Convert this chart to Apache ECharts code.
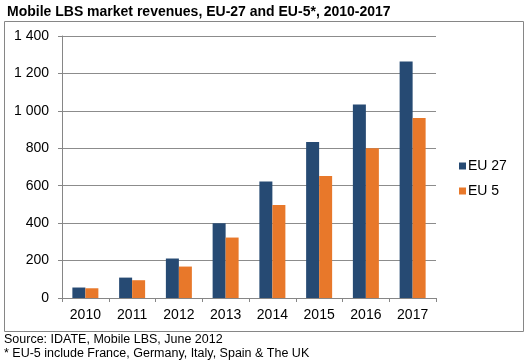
<!DOCTYPE html>
<html><head><meta charset="utf-8">
<script src="https://cdn.jsdelivr.net/npm/echarts@6/dist/echarts.min.js"></script>
<style>html,body{margin:0;padding:0;background:#fff}#c{width:532px;height:364px}</style>
</head><body><div id="c"></div>
<script>
const categories = ['2010','2011','2012','2013','2014','2015','2016','2017'];
const eu27 = [56, 109, 211, 400, 622, 834, 1034, 1264];
const eu5 = [52, 95, 168, 323, 497, 652, 800, 962];
const seriesNames = ['EU 27', 'EU 5'];
const titleText = 'Mobile LBS market revenues, EU-27 and EU-5*, 2010-2017';
const sourceLines = ['Source: IDATE, Mobile LBS, June 2012', '* EU-5 include France, Germany, Italy, Spain & The UK'];

const font = '"Liberation Sans", Arial, sans-serif';
const chart = echarts.init(document.getElementById('c'), null, {renderer:'canvas'});
chart.setOption({
  animation:false,
  backgroundColor:'#fff',
  title:{text:titleText, left:2, top:0, textStyle:{fontFamily:font, fontSize:14, fontWeight:'bold', color:'#000'}},
  graphic:[
    {type:'rect', shape:{x:4.5, y:21.5, width:519, height:310}, style:{fill:'none', stroke:'#868686', lineWidth:1}, z:-1},
    {type:'text', left:4, top:333, style:{text:sourceLines[0], font:'12.5px '+font, fill:'#000'}},
    {type:'text', left:4, top:347, style:{text:sourceLines[1], font:'12.5px '+font, fill:'#000'}}
  ],
  legend:{
    orient:'vertical', left:459, top:159, padding:0, itemWidth:7, itemHeight:7, itemGap:11, icon:'rect',
    textStyle:{fontFamily:font, fontSize:14, color:'#000', padding:[0,0,0,-3]},
    data:seriesNames
  },
  grid:{left:62, right:96, top:36, bottom:66, containLabel:false},
  xAxis:{
    type:'category', data:categories,
    axisLine:{lineStyle:{color:'#868686'}},
    axisTick:{show:true, length:4, lineStyle:{color:'#868686'}},
    axisLabel:{fontFamily:font, fontSize:14, color:'#000', margin:10}
  },
  yAxis:{
    type:'value', min:0, max:1400, interval:200,
    axisLine:{show:true, lineStyle:{color:'#868686'}},
    axisTick:{show:true, length:4, lineStyle:{color:'#868686'}},
    splitLine:{lineStyle:{color:'#8c8c8c'}},
    axisLabel:{fontFamily:font, fontSize:14, color:'#000', margin:13,
      formatter:v=>String(v).replace(/\B(?=(\d{3})+(?!\d))/g,' ')}
  },
  series:[
    {name:seriesNames[0], type:'bar', data:eu27, barWidth:13, barGap:'0%', itemStyle:{color:'#264A73'}},
    {name:seriesNames[1], type:'bar', data:eu5, barWidth:13, itemStyle:{color:'#E8782A'}}
  ]
});
</script></body></html>
